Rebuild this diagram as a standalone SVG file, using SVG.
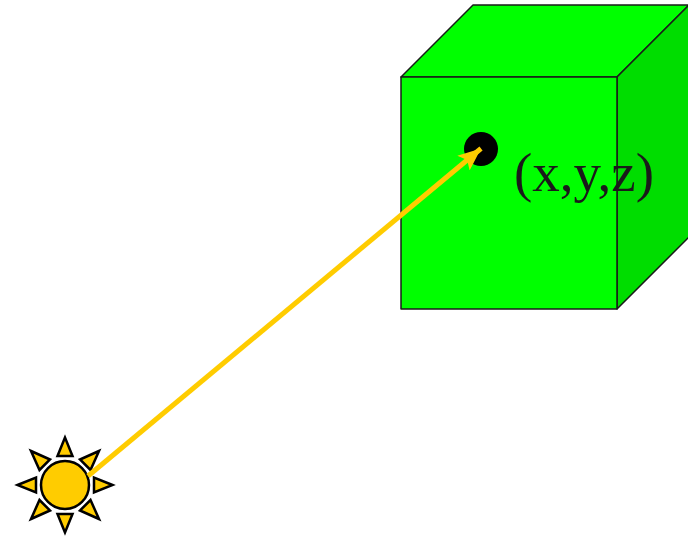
<svg xmlns="http://www.w3.org/2000/svg" width="688" height="537" viewBox="0 0 688 537">
<style>
.edge{stroke:#1a1a1a;stroke-width:1.5;stroke-linejoin:round}
.ray{fill:#ffcc00;stroke:#000;stroke-width:2.500;stroke-linejoin:miter}
text{font-family:"Liberation Serif","Times New Roman",serif;font-size:55px;fill:#1a1a1a}
</style>
<defs>
<marker id="head" markerUnits="userSpaceOnUse" markerWidth="24" markerHeight="24" refX="19" refY="9" orient="auto" viewBox="0 0 20 18">
<path d="M0 1 L19 9 L0 17 L4 9 Z" fill="#ffcc00"/>
</marker>
</defs>
<rect width="688" height="537" fill="#fff"/>
<g id="cube">
<polygon class="edge" points="401,77 473,5 689,5 617,77" fill="#00ff00"/>
<polygon class="edge" points="617,77 689,5 689,237 617,309" fill="#00dd00"/>
<rect class="edge" x="401" y="77" width="216" height="232" fill="#00ff00"/>
</g>
<g id="point">
<circle cx="481" cy="149" r="17" fill="#000"/>
<text x="514" y="191">(x,y,z)</text>
</g>
<g id="sun">
<circle cx="65" cy="485" r="24" fill="#ffcc00" stroke="#000" stroke-width="2.500"/>
<polygon class="ray" points="65,437.500 57.500,456 72.500,456"/>
<polygon class="ray" points="65,532.500 57.500,514 72.500,514"/>
<polygon class="ray" points="17.500,485 36,477.500 36,492.500"/>
<polygon class="ray" points="112.500,485 94,477.500 94,492.500"/>
<polygon class="ray" points="31,451 50,459.500 39.500,470"/>
<polygon class="ray" points="99,451 80,459.500 90.500,470"/>
<polygon class="ray" points="31,519 50,510.500 39.500,500"/>
<polygon class="ray" points="99,519 80,510.500 90.500,500"/>
</g>
<g id="connectors">
<line x1="88" y1="476" x2="481" y2="148.500" stroke="#ffcc00" stroke-width="5" marker-end="url(#head)"/>
</g>
</svg>
